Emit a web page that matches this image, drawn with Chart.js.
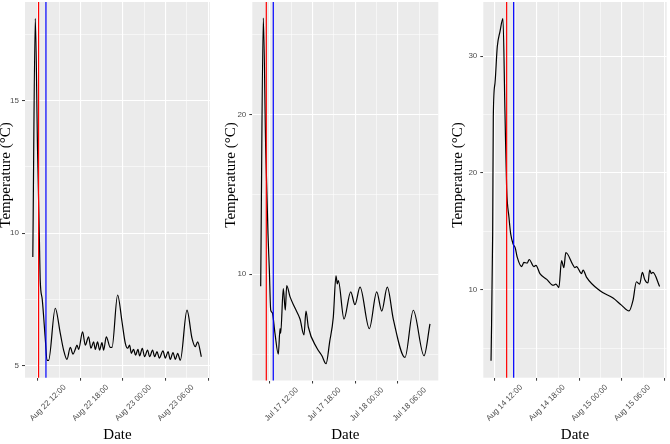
<!DOCTYPE html>
<html><head><meta charset="utf-8">
<script src="https://cdn.jsdelivr.net/npm/chart.js@4/dist/chart.umd.min.js"></script>
<style>
html,body{margin:0;padding:0;background:#fff;width:670px;height:444px;overflow:hidden;}
canvas{position:absolute;top:0;}
</style></head><body>
<canvas id="c1" width="216" height="444" style="left:0px"></canvas>
<canvas id="c2" width="224" height="444" style="left:216px"></canvas>
<canvas id="c3" width="230" height="444" style="left:440px"></canvas>
<script>
// ---------- Data (hours relative to first labelled tick) ----------
// Panel 1 : Aug 22 - Aug 23
const p1Hours = [-0.70,-0.35,-0.03,0.21,0.35,0.63,1.06,1.30,1.52,2.46,3.17,3.63,4.11,4.58,4.96,5.28,5.52,5.75,6.31,6.69,7.15,7.49,7.86,8.10,8.42,8.70,9.04,9.27,9.65,10.21,10.45,11.24,11.86,12.32,12.65,12.93,13.17,13.49,13.77,14.11,14.34,14.72,15.04,15.46,15.75,16.17,16.45,16.79,17.11,17.63,17.96,18.34,18.66,19.04,19.37,19.69,20.07,21.01,21.72,22.18,22.51,23.03];
const p1Temps = [9.1,18.1,13.1,10.0,8.2,7.5,6.0,5.2,5.2,7.17,6.22,5.6,5.24,5.69,5.44,5.62,5.78,5.62,6.28,5.78,6.09,5.66,5.9,5.62,5.9,5.59,5.87,5.59,6.09,5.69,5.69,7.67,6.66,5.85,5.66,5.78,5.47,5.62,5.40,5.62,5.37,5.66,5.34,5.59,5.34,5.59,5.34,5.53,5.29,5.56,5.29,5.53,5.24,5.50,5.24,5.47,5.21,7.1,6.03,5.72,5.9,5.34];
const p1TickHours = [0,6,12,18,24];
const p1TickLabels = ['Aug 22 12:00','Aug 22 18:00','Aug 23 00:00','Aug 23 06:00',''];
const p1MinorHours = [3,9,15,21];
const p1YTicks = [5,10,15];
const p1YMinor = [7.5,12.5,17.5];
const p1Markers = [0.11,1.15];

// Panel 2 : Jul 17 - Jul 18
const p2Hours = [-1.31,-0.94,-0.60,-0.28,-0.10,0.10,0.32,0.70,1.17,1.41,1.50,1.87,2.15,2.35,2.81,3.50,4.22,4.78,5.06,5.39,6.57,7.30,7.88,8.40,8.90,9.28,9.47,9.61,10.41,11.35,11.95,12.66,13.97,15.01,15.71,16.50,17.34,18.99,20.15,21.66,22.50];
const p2Temps = [9.25,26.04,17.75,12.5,10.4,7.75,7.6,6.3,5.0,6.6,6.3,9.1,7.75,9.3,8.6,7.9,7.2,6.2,7.7,6.7,5.4,4.9,4.4,5.8,7.3,9.9,9.4,9.6,7.2,8.9,8.1,9.2,6.6,8.9,7.7,9.2,7.2,4.8,7.75,4.9,6.9];
const p2TickHours = [0,6,12,18];
const p2TickLabels = ['Jul 17 12:00','Jul 17 18:00','Jul 18 00:00','Jul 18 06:00'];
const p2MinorHours = [3,9,15,21];
const p2YTicks = [10,20];
const p2YMinor = [5,15,25];
const p2Markers = [-0.52,0.46];

// Panel 3 : Aug 14 - Aug 15
const p3Hours = [-0.46,-0.23,-0.14,0.10,0.42,0.80,1.22,1.50,1.74,2.07,2.31,2.67,2.95,3.23,3.85,4.18,4.64,4.92,5.58,5.87,6.43,7.40,8.30,8.68,9.10,9.48,9.80,10.08,11.03,11.35,11.59,12.29,12.52,12.99,14.85,16.74,17.92,18.99,19.55,20.03,20.25,20.49,20.87,21.20,21.66,21.90,22.14,22.36,23.30];
const p3Temps = [3.94,14.8,24.8,27.7,30.8,32.1,33.2,25.3,18.7,16.2,14.8,13.9,13.6,12.8,12.0,12.35,12.3,12.6,12.0,12.1,11.4,10.9,10.4,10.5,10.2,12.5,11.9,13.2,12.2,11.9,12.0,11.4,11.7,11.1,9.95,9.3,8.7,8.2,9.1,10.7,10.6,10.5,11.5,10.9,10.6,11.7,11.4,11.5,10.3];
const p3TickHours = [0,6,12,18,24];
const p3TickLabels = ['Aug 14 12:00','Aug 14 18:00','Aug 15 00:00','Aug 15 06:00',''];
const p3MinorHours = [3,9,15,21];
const p3YTicks = [10,20,30];
const p3YMinor = [5,15,25];
const p3Markers = [1.74,2.73];

const markerColors = ['#FF0000','#0000FF'];
const yTitleText = 'Temperature (°C)';
const xTitleText = 'Date';

// ---------- Plugins ----------
const bgPlugin = {
  id: 'panelBg',
  beforeDraw(chart) {
    const {ctx, chartArea: a} = chart;
    ctx.save();
    ctx.fillStyle = '#EBEBEB';
    ctx.fillRect(a.left, a.top, a.right - a.left, a.bottom - a.top);
    ctx.restore();
  }
};
const vlinePlugin = {
  id: 'vlines',
  afterDatasetsDraw(chart, args, opts) {
    const {ctx, chartArea: a, scales} = chart;
    (opts.values || []).forEach((v, i) => {
      const px = scales.x.getPixelForValue(v);
      ctx.save();
      ctx.strokeStyle = opts.colors[i];
      ctx.lineWidth = 1.2;
      ctx.beginPath();
      ctx.moveTo(px, a.top);
      ctx.lineTo(px, a.bottom);
      ctx.stroke();
      ctx.restore();
    });
  }
};
const yTitlePlugin = {
  id: 'yTitle',
  afterDraw(chart, args, opts) {
    const ctx = chart.ctx;
    ctx.save();
    ctx.translate(opts.x, opts.y);
    ctx.rotate(-Math.PI / 2);
    ctx.font = '15px "Liberation Serif", "Times New Roman", serif';
    ctx.fillStyle = '#000000';
    ctx.textAlign = 'center';
    ctx.textBaseline = 'middle';
    ctx.fillText(opts.text, 0, 0);
    ctx.restore();
  }
};

const GREY = '#4D4D4D';
const near = (arr, v) => arr.findIndex(m => Math.abs(m - v) < 1e-6);

function panel(id, o) {
  new Chart(document.getElementById(id), {
    type: 'line',
    data: {
      datasets: [{
        data: o.hours.map((h, i) => ({x: h, y: o.temps[i]})),
        borderColor: '#000000', borderWidth: 1.2, pointRadius: 0,
        cubicInterpolationMode: 'monotone', fill: false
      }]
    },
    options: {
      responsive: false, animation: false, devicePixelRatio: 1,
      layout: {autoPadding: false, padding: {top: 2, right: o.padRight, bottom: 0, left: 0}},
      plugins: {
        legend: {display: false}, tooltip: {enabled: false},
        vlines: {values: o.markers, colors: markerColors},
        yTitle: {text: yTitleText, x: o.titleX, y: 175}
      },
      scales: {
        x: {
          type: 'linear', min: o.xMin, max: o.xMax,
          afterBuildTicks: s => { s.ticks = [...o.xMajor, ...o.xMinor].sort((a, b) => a - b).map(v => ({value: v})); },
          afterFit: s => { s.height = o.xAxisHeight; s.paddingLeft = 0; s.paddingRight = 0; },
          ticks: {
            autoSkip: false, minRotation: 45, maxRotation: 45, labelOffset: 27, padding: 2,
            color: GREY, font: {family: '"Liberation Sans", Arial, sans-serif', size: 8},
            callback: v => { const i = near(o.xMajor, v); return i < 0 ? '' : o.xLabels[i]; }
          },
          grid: {
            color: '#FFFFFF',
            lineWidth: c => near(o.xMajor, c.tick.value) >= 0 ? 1.1 : 0.55,
            tickColor: c => near(o.xMajor, c.tick.value) >= 0 ? '#333333' : 'rgba(0,0,0,0)',
            tickLength: 3, tickWidth: 1
          },
          border: {display: false},
          title: {display: true, text: xTitleText, color: '#000000', padding: 0,
                  font: {family: '"Liberation Serif", "Times New Roman", serif', size: 15}}
        },
        y: {
          type: 'linear', min: o.yMin, max: o.yMax,
          afterBuildTicks: s => { s.ticks = [...o.yMajor, ...o.yMinor].sort((a, b) => a - b).map(v => ({value: v})); },
          afterFit: s => { s.width = o.yAxisWidth; s.paddingTop = 0; s.paddingBottom = 0; },
          ticks: {
            autoSkip: false, padding: 3, color: GREY,
            font: {family: '"Liberation Sans", Arial, sans-serif', size: 8},
            callback: v => near(o.yMajor, v) >= 0 ? String(v) : ''
          },
          grid: {
            color: '#FFFFFF',
            lineWidth: c => near(o.yMajor, c.tick.value) >= 0 ? 1.1 : 0.55,
            tickColor: c => near(o.yMajor, c.tick.value) >= 0 ? '#333333' : 'rgba(0,0,0,0)',
            tickLength: 3, tickWidth: 1
          },
          border: {display: false}
        }
      }
    },
    plugins: [bgPlugin, vlinePlugin, yTitlePlugin]
  });
}

panel('c1', {hours: p1Hours, temps: p1Temps, xMajor: p1TickHours, xLabels: p1TickLabels, xMinor: p1MinorHours,
  yMajor: p1YTicks, yMinor: p1YMinor, markers: p1Markers,
  xMin: -1.8, xMax: 24.25, yMin: 4.55, yMax: 18.72,
  yAxisWidth: 25, padRight: 6, xAxisHeight: 66.3, titleX: 6.5});
panel('c2', {hours: p2Hours, temps: p2Temps, xMajor: p2TickHours, xLabels: p2TickLabels, xMinor: p2MinorHours,
  yMajor: p2YTicks, yMinor: p2YMinor, markers: p2Markers,
  xMin: -2.49, xMax: 23.67, yMin: 3.35, yMax: 27.05,
  yAxisWidth: 36.3, padRight: 1.7, xAxisHeight: 63.5, titleX: 14.8});
panel('c3', {hours: p3Hours, temps: p3Temps, xMajor: p3TickHours, xLabels: p3TickLabels, xMinor: p3MinorHours,
  yMajor: p3YTicks, yMinor: p3YMinor, markers: p3Markers,
  xMin: -1.55, xMax: 24.3, yMin: 2.49, yMax: 34.63,
  yAxisWidth: 43.3, padRight: 3.3, xAxisHeight: 66.3, titleX: 18});
</script>
</body></html>
